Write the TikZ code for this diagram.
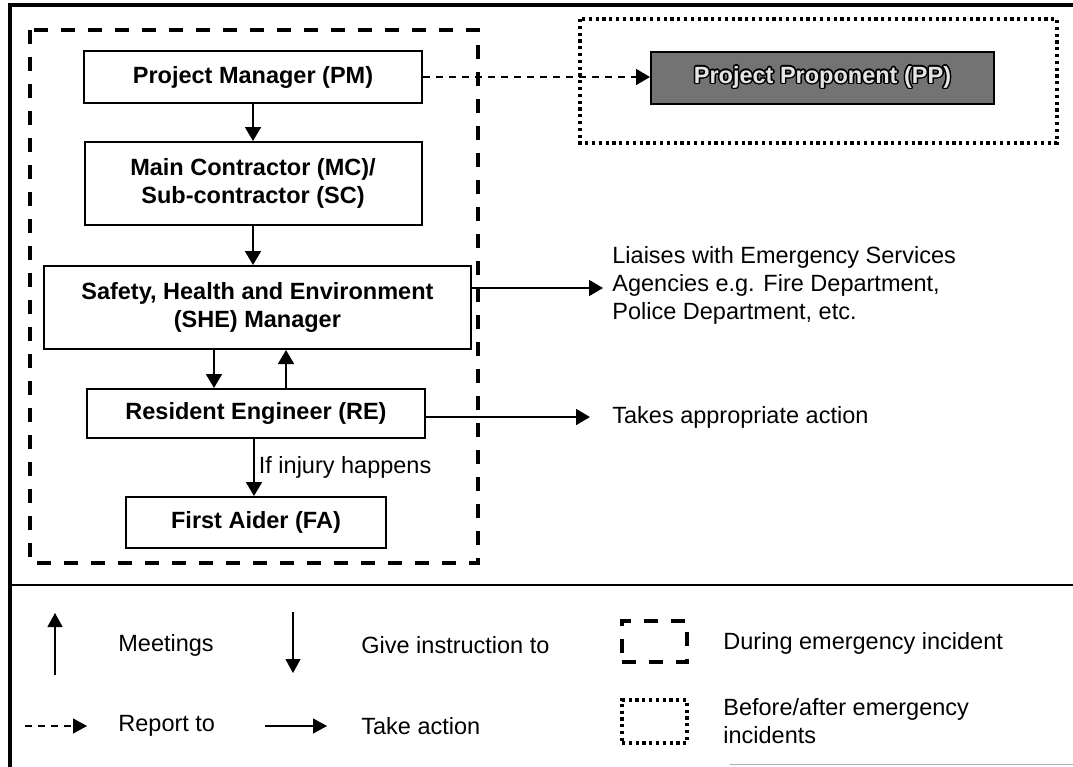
\documentclass[tikz,border=0pt]{standalone}
\usepackage{fontspec}
\setmainfont{Liberation Sans}
\usepackage[copies]{contour}
\contourlength{0.7pt}
\usetikzlibrary{positioning,arrows.meta,calc}

\begin{document}
\begin{tikzpicture}[
    x=0.5pt, y=-0.5pt,
    font=\fontsize{11.75pt}{14pt}\selectfont,
    box/.style={
        draw,
        line width=1pt,
        align=center,
        inner sep=2pt,
        font=\fontsize{11.75pt}{14pt}\selectfont\bfseries
    },
    txt/.style={anchor=west, inner sep=0pt, align=left},
    arrow/.style={-{Triangle[length=7pt,width=8pt]}, line width=0.9pt},
    keyarrow/.style={-{Triangle[length=7pt,width=7.5pt]}, line width=0.6pt},
    report/.style={arrow, dash pattern=on 3.5pt off 3pt},
    during/.style={line width=1.6pt, dash pattern=on 7pt off 6.5pt},
    beforeafter/.style={line width=1.6pt, dash pattern=on 1.6pt off 1.8pt},
    frame/.style={line width=2pt}
]
\useasboundingbox (0,0) rectangle (1073,767);

% outer frame
\draw[frame] (1073,5) -- (10,5) -- (10,767);
\draw[line width=1pt] (10,585) -- (1073,585);
\draw[gray!60, line width=0.5pt] (730,764) -- (1073,764);

% chain of command
\node[box, minimum width=169pt, minimum height=26pt] (pm) at (253,77) {Project Manager (PM)};
\node[box, minimum width=168.5pt, minimum height=41.5pt, below=18.5pt of pm] (mc)
    {Main Contractor (MC)/\\Sub-contractor (SC)};
\node[box, minimum width=213.5pt, minimum height=41.5pt, below=19.5pt of mc, xshift=2.2pt] (she)
    {Safety, Health and Environment\\(SHE) Manager};
\node[box, minimum width=169pt, minimum height=24.5pt, below=19pt of she, xshift=-0.7pt] (re)
    {Resident Engineer (RE)};
\node[box, minimum width=130pt, minimum height=25.5pt, below=28.5pt of re] (fa) {First Aider (FA)};

\draw[arrow] (pm) -- (mc);
\draw[arrow] (mc.south) -- (mc.south |- she.north);
\draw[arrow] (she.south -| 214,0) -- (re.north -| 214,0);
\draw[arrow] (re.north -| 286,0) -- (she.south -| 286,0);
\draw[arrow] (re.south -| 254,0) --
    node[right, inner sep=2pt] {If injury happens} (fa.north -| 254,0);

% project proponent
\node[box, fill=black!55, text=gray!20, minimum width=171.5pt, minimum height=26pt] (pp) at (822.5,78)
    {\contour{black}{Project Proponent (PP)}};
\draw[report] (pm.east) -- (pp.west |- pm.east);

% actions outside
\node[txt] (liaise) at (612,285)
    {Liaises with Emergency Services\\Agencies e.g. Fire Department,\\Police Department, etc.};
\node[txt] (takes) at (612,417) {Takes appropriate action};
\draw[arrow, shorten >=4.5pt] (she.east |- 0,288) -- (liaise.west |- 0,288);
\draw[arrow, shorten >=11pt] (re.east |- takes.west) -- (takes.west);

% phase frames
\draw[during] (30,30) rectangle (478,563);
\draw[beforeafter] (580,19) rectangle (1057,143);

% legend
\coordinate (mt0) at (55,675);  \coordinate (mt1) at (55,613);
\coordinate (gi0) at (293,612); \coordinate (gi1) at (293,673);
\coordinate (rp0) at (25,726);  \coordinate (rp1) at (87,726);
\coordinate (ta0) at (265,726); \coordinate (ta1) at (327,726);
\draw[keyarrow] (mt0) -- (mt1);
\draw[keyarrow] (gi0) -- (gi1);
\draw[keyarrow, dash pattern=on 3.5pt off 3pt] (rp0) -- (rp1);
\draw[keyarrow] (ta0) -- (ta1);
\node[txt] (meet) at (118,645) {Meetings};
\node[txt] (give) at (361,645) {Give instruction to};
\node[txt] (rep) at (118,726) {Report to};
\node[txt] (take) at (361,726) {Take action};

\node[during, draw, minimum width=32.5pt, minimum height=20.5pt] (keyd) at (654.5,641.5) {};
\node[beforeafter, draw, minimum width=32.5pt, minimum height=21.5pt] (keyb) at (654.5,721.5) {};
\node[txt] (dur) at (723,643) {During emergency incident};
\node[txt] (bef) at (723,721) {Before/after emergency\\incidents};
\end{tikzpicture}
\end{document}
